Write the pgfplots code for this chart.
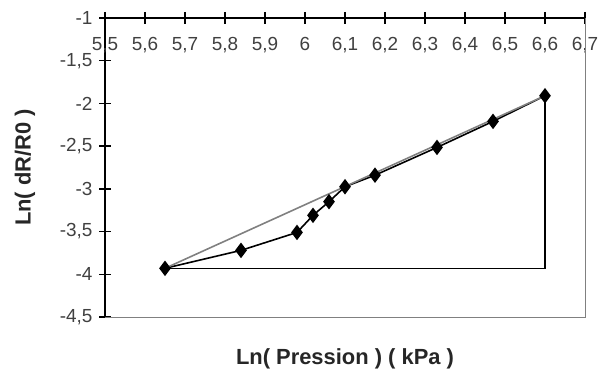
\documentclass[border=0pt]{standalone}
\usepackage{fontspec}
\setmainfont{Liberation Sans}
\usepackage{pgfplots}
\pgfplotsset{compat=1.18}
\newcommand{\tickfont}{\fontsize{19}{22}\selectfont}
\begin{document}
\begin{tikzpicture}
\useasboundingbox (0,0) rectangle (598bp,374bp);
\begin{axis}[
  at={(105bp,57bp)}, anchor=south west,
  width=480bp, height=299bp, scale only axis,
  xmin=5.5, xmax=6.7, ymin=-4.5, ymax=-1,
  axis x line*=top, axis y line*=left,
  axis line style={line width=1.5pt, black},
  xtick={5.5,5.6,5.7,5.8,5.9,6,6.1,6.2,6.3,6.4,6.5,6.6,6.7},
  ytick={-4.5,-4,-3.5,-3,-2.5,-2,-1.5,-1},
  tick align=center, major tick length=12bp,
  tick style={line width=1.3pt, black},
  xticklabel style={font=\tickfont, text=black!75, anchor=north, yshift=-22bp},
  yticklabel style={font=\tickfont, text=black!75, xshift=-3bp},
  xticklabel={\pgfmathprintnumber[use comma,assume math mode=true]{\tick}},
  yticklabel={\pgfmathprintnumber[use comma,assume math mode=true]{\tick}},
  xlabel={Ln( Pression ) ( kPa )},
  ylabel={Ln( dR/R0 )},
  label style={font=\bfseries\fontsize{22}{26}\selectfont, text=black!85},
  xlabel style={at={(axis description cs:0.5,-0.14)}, anchor=center},
  ylabel style={at={(axis description cs:-0.167,0.5)}, anchor=center},
  clip=false,
]
\draw[gray, line width=1pt] (rel axis cs:1,1) -- (rel axis cs:1,0) -- (rel axis cs:0,0);
\addplot[black, line width=1.6pt, mark=diamond*, mark size=6.5pt, mark options={fill=black}] coordinates {
  (5.65,-3.93) (5.84,-3.72) (5.98,-3.51) (6.02,-3.31) (6.06,-3.15)
  (6.10,-2.975) (6.175,-2.84) (6.33,-2.515) (6.47,-2.21) (6.60,-1.91)
};
\addplot[black, line width=1.5pt] coordinates {(5.65,-3.93) (6.60,-3.93) (6.60,-1.91)};
\addplot[gray, line width=1.6pt] coordinates {(5.65,-3.93) (6.60,-1.91)};
\end{axis}
\end{tikzpicture}
\end{document}
